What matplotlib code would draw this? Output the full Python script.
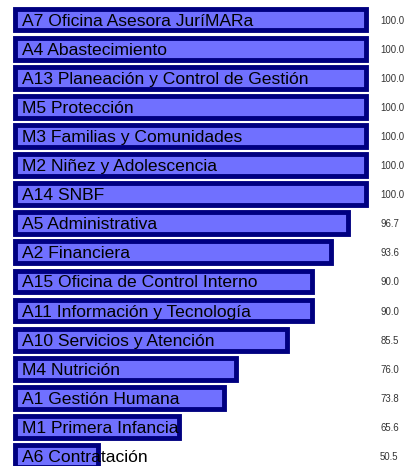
import matplotlib
matplotlib.use("Agg")
import matplotlib.pyplot as plt
import matplotlib.transforms as mtransforms

labels = [
    "A7 Oficina Asesora JuríMARa",
    "A4 Abastecimiento",
    "A13 Planeación y Control de Gestión",
    "M5 Protección",
    "M3 Familias y Comunidades",
    "M2 Niñez y Adolescencia",
    "A14 SNBF",
    "A5 Administrativa",
    "A2 Financiera",
    "A15 Oficina de Control Interno",
    "A11 Información y Tecnología",
    "A10 Servicios y Atención",
    "M4 Nutrición",
    "A1 Gestión Humana",
    "M1 Primera Infancia",
    "A6 Contratación",
]
values = [100.0, 100.0, 100.0, 100.0, 100.0, 100.0, 100.0, 96.7, 93.6,
          90.0, 90.0, 85.5, 76.0, 73.8, 65.6, 50.5]

base = 0.7 * min(values)

plt.rcParams['font.family'] = ['Liberation Sans', 'DejaVu Sans']

fig = plt.figure(figsize=(4.07, 4.66), dpi=100)
ax = fig.add_axes([0, 0, 1, 1])

ypos = list(range(len(values)))
widths = [v - base for v in values]
ax.barh(ypos, widths, left=base, height=0.75, color='#7070FF',
        edgecolor='#000080', linewidth=3.5)

lab_tr = mtransforms.offset_copy(ax.transData, fig=fig, x=7, y=0, units='dots')
for y, lab in zip(ypos, labels):
    ax.text(base, y, lab, transform=lab_tr, ha='left', va='center_baseline',
            fontsize=12.6, color='black')

val_tr = mtransforms.blended_transform_factory(ax.transAxes, ax.transData)
for y, v in zip(ypos, values):
    ax.text(0.934, y, f"{v:.1f}", transform=val_tr, ha='left',
            va='center_baseline', fontsize=6.9, color='#333333')

ax.set_xlim(32.5, 107.6)
ax.set_ylim(15.34, -0.67)
ax.axis('off')

fig.savefig('out.png', dpi=100)
